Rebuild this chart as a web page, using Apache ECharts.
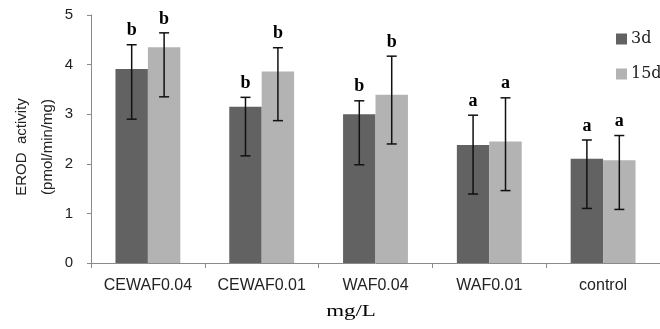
<!DOCTYPE html>
<html>
<head>
<meta charset="utf-8">
<script src="https://cdn.jsdelivr.net/npm/echarts@6/dist/echarts.min.js"></script>
<style>html,body{margin:0;padding:0;background:#fff;}#c{width:660px;height:329px;}</style>
</head>
<body>
<div id="c"></div>
<script>
const categories = ['CEWAF0.04', 'CEWAF0.01', 'WAF0.04', 'WAF0.01', 'control'];
const yTicks = [0, 1, 2, 3, 4, 5];
const values3d = [3.91, 3.15, 3.00, 2.38, 2.10];
const hi3d = [4.40, 3.34, 3.27, 2.98, 2.48];
const lo3d = [2.90, 2.16, 1.98, 1.39, 1.10];
const letters3d = ['b', 'b', 'b', 'a', 'a'];
const values15d = [4.35, 3.86, 3.39, 2.45, 2.07];
const hi15d = [4.64, 4.34, 4.17, 3.33, 2.57];
const lo15d = [3.35, 2.87, 2.40, 1.46, 1.08];
const letters15d = ['b', 'b', 'b', 'a', 'a'];

const GAP = 0.43;
function errRenderer(side, letters) {
  return function (params, api) {
    const i = api.value(0);
    const hi = api.value(1);
    const lo = api.value(2);
    const band = api.size([1, 0])[0];
    const bw = band * (1 - GAP) / 2;
    const cx = api.coord([i, 0])[0] + side * bw / 2;
    const yh = api.coord([i, hi])[1];
    const yl = api.coord([i, lo])[1];
    const cap = 5;
    const ls = { stroke: '#111', lineWidth: 1.5 };
    return {
      type: 'group',
      children: [
        { type: 'line', shape: { x1: cx, y1: yh, x2: cx, y2: yl }, style: ls },
        { type: 'line', shape: { x1: cx - cap, y1: yh, x2: cx + cap, y2: yh }, style: ls },
        { type: 'line', shape: { x1: cx - cap, y1: yl, x2: cx + cap, y2: yl }, style: ls },
        { type: 'text', x: cx, y: yh - 5, style: { text: letters[i], fontFamily: 'Liberation Serif', fontWeight: 'bold', fontSize: 18, fill: '#000', align: 'center', verticalAlign: 'bottom' } }
      ]
    };
  };
}

const chart = echarts.init(document.getElementById('c'), null, { renderer: 'canvas' });
chart.setOption({
  animation: false,
  grid: { left: 91, top: 15, width: 570, height: 248, containLabel: false },
  legend: {
    data: ['3d', '15d'],
    orient: 'vertical',
    left: 611, top: 25,
    icon: 'rect',
    itemWidth: 11, itemHeight: 11,
    itemGap: 17,
    textStyle: { fontFamily: 'DejaVu Serif', fontSize: 16, color: '#222', lineHeight: 18, padding: [0, 0, 0, -1] }
  },
  xAxis: {
    type: 'category',
    data: categories,
    axisLine: { lineStyle: { color: '#8a8a8a', width: 1 } },
    axisTick: { show: true, length: 5, lineStyle: { color: '#8a8a8a' } },
    axisLabel: { interval: 0, hideOverlap: false, margin: 15, fontFamily: 'Liberation Sans', fontSize: 16, color: '#222' }
  },
  yAxis: {
    type: 'value',
    min: 0, max: 5, interval: 1,
    splitLine: { show: false },
    axisLine: { show: true, lineStyle: { color: '#8a8a8a', width: 1 } },
    axisTick: { show: true, length: 4, lineStyle: { color: '#8a8a8a' } },
    axisLabel: { margin: 18, fontFamily: 'Liberation Sans', fontSize: 15, color: '#222',
      formatter: function (v) { return yTicks.indexOf(v) >= 0 ? String(v) : ''; } }
  },
  graphic: [
    { type: 'text', x: 22, y: 147, rotation: Math.PI / 2, style: { text: 'EROD  activity', fontFamily: 'Liberation Sans', fontSize: 15, fill: '#222', align: 'center', verticalAlign: 'middle' } },
    { type: 'text', x: 48, y: 147, rotation: Math.PI / 2, style: { text: '(pmol/min/mg)', fontFamily: 'Liberation Sans', fontSize: 15, fill: '#222', align: 'center', verticalAlign: 'middle' } },
    { type: 'text', x: 351, y: 312, scaleX: 1.35, style: { text: 'mg/L', fontFamily: 'Liberation Serif', fontSize: 17, fill: '#000', align: 'center', verticalAlign: 'middle' } }
  ],
  series: [
    { name: '3d', type: 'bar', data: values3d, barGap: '0%', barCategoryGap: '43%', itemStyle: { color: '#626262' } },
    { name: '15d', type: 'bar', data: values15d, barGap: '0%', barCategoryGap: '43%', itemStyle: { color: '#b3b3b3' } },
    { type: 'custom', clip: false, z: 5, renderItem: errRenderer(-1, letters3d),
      encode: { x: 0, y: [1, 2] },
      data: categories.map(function (c, i) { return [i, hi3d[i], lo3d[i]]; }) },
    { type: 'custom', clip: false, z: 5, renderItem: errRenderer(1, letters15d),
      encode: { x: 0, y: [1, 2] },
      data: categories.map(function (c, i) { return [i, hi15d[i], lo15d[i]]; }) }
  ]
});
</script>
</body>
</html>
